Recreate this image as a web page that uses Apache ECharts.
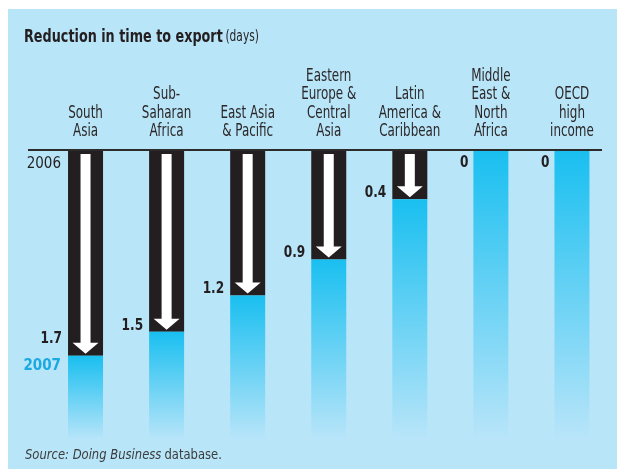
<!DOCTYPE html>
<html>
<head>
<meta charset="utf-8">
<script src="https://cdn.jsdelivr.net/npm/echarts@6/dist/echarts.min.js"></script>
<style>
  html, body { margin: 0; padding: 0; background: #fff; }
  #chart { width: 617px; height: 469px; }
</style>
</head>
<body>
<div id="chart"></div>
<script>
// Regions, in the order drawn left to right
const regions = [
  'South\nAsia',
  'Sub-\nSaharan\nAfrica',
  'East Asia\n& Pacific',
  'Eastern\nEurope &\nCentral\nAsia',
  'Latin\nAmerica &\nCaribbean',
  'Middle\nEast &\nNorth\nAfrica',
  'OECD\nhigh\nincome'
];
// Reduction in time to export, 2006 -> 2007 (days)
const reduction = [1.7, 1.5, 1.2, 0.9, 0.4, 0, 0];
// Depth of the value scale below the 2006 line
const scaleMax = 2.4;

const FONT = "'DejaVu Sans Condensed', 'Liberation Sans Narrow', Roboto, sans-serif";
const INK = '#231f20';
const PANEL = '#b9e5f9';
const CYAN = '#19bff0';
const NARROW = 0.78;   // horizontal squeeze for the condensed lettering

const chart = echarts.init(document.getElementById('chart'), null, { renderer: 'canvas' });

const fade = new echarts.graphic.LinearGradient(0, 0, 0, 1, [
  { offset: 0, color: CYAN },
  { offset: 1, color: PANEL }
]);

const BAR_W = 35;

function valueText(x, y, v) {
  return {
    type: 'text',
    x: x, y: y,
    scaleX: 0.9,
    style: {
      x: 0, y: 0,
      text: String(v),
      align: 'right',
      verticalAlign: 'middle',
      fontFamily: FONT,
      fontWeight: 'bold',
      fontSize: 15,
      fill: INK
    }
  };
}

const option = {
  animation: false,
  backgroundColor: '#ffffff',
  textStyle: { fontFamily: FONT },
  grid: { left: 45, right: 4.5, top: 151, bottom: 29, containLabel: false },
  xAxis: {
    type: 'category',
    position: 'top',
    data: regions,
    axisLine: { show: false },
    axisTick: { show: false },
    axisLabel: { show: false }
  },
  yAxis: {
    type: 'value',
    inverse: true,
    min: 0,
    max: scaleMax,
    show: false,
    splitLine: { show: false }
  },
  series: [
    {
      name: 'reduction',
      type: 'bar',
      stack: 'years',
      barWidth: BAR_W,
      itemStyle: { color: INK },
      data: reduction
    },
    {
      name: '2007 level',
      type: 'bar',
      stack: 'years',
      barWidth: BAR_W,
      itemStyle: { color: fade },
      data: reduction.map(v => +(scaleMax - v).toFixed(3))
    },
    {
      name: 'arrows',
      type: 'custom',
      z: 5,
      data: reduction.map((v, i) => [i, v]),
      renderItem: function (params, api) {
        const idx = api.value(0);
        const v = api.value(1);
        const top = api.coord([idx, 0]);
        const bot = api.coord([idx, v]);
        const cx = top[0];
        const left = cx - BAR_W / 2;
        const children = [];
        // region name above the 2006 line
        children.push({
          type: 'text',
          x: cx,
          y: top[1] - 10,
          scaleX: NARROW,
          style: {
            x: 0, y: 0,
            text: regions[idx],
            align: 'center',
            verticalAlign: 'bottom',
            fontFamily: FONT,
            fontSize: 17,
            lineHeight: 18.5,
            fill: '#2b2728'
          }
        });
        if (v > 0) {
          const y0 = top[1] + 3;
          const y1 = bot[1] - 2;
          const headH = 11, headHalf = 13, shaftHalf = 5;
          children.push({
            type: 'polygon',
            shape: {
              points: [
                [cx - shaftHalf, y0], [cx + shaftHalf, y0],
                [cx + shaftHalf, y1 - headH], [cx + headHalf, y1 - headH],
                [cx, y1],
                [cx - headHalf, y1 - headH], [cx - shaftHalf, y1 - headH]
              ]
            },
            style: { fill: '#ffffff' }
          });
          children.push(valueText(left - 6, bot[1] - (idx === 0 ? 17 : 6), v));
        } else {
          children.push(valueText(left - 5, top[1] + 12, v));
        }
        return { type: 'group', children: children };
      }
    }
  ]
};

chart.setOption(option);

// Panel, headings, the 2006 line and the year markers, placed from the value scale
const y2006 = chart.convertToPixel({ gridIndex: 0 }, [0, 0])[1];
const ySouth = chart.convertToPixel({ gridIndex: 0 }, [0, reduction[0]])[1];
chart.setOption({
  graphic: [
    {
      type: 'rect', z: -10,
      shape: { x: 8, y: 9, width: 609, height: 460 },
      style: { fill: PANEL }
    },
    {
      type: 'text',
      x: 24, y: 37,
      scaleX: 0.79,
      style: {
        x: 0, y: 0,
        verticalAlign: 'middle',
        text: '{b|Reduction in time to export} {r|(days)}',
        rich: {
          b: { fontFamily: FONT, fontWeight: 'bold', fontSize: 18, fill: INK },
          r: { fontFamily: FONT, fontSize: 15, fill: INK }
        }
      }
    },
    {
      type: 'text',
      x: 25, y: 455,
      scaleX: 0.92,
      style: {
        x: 0, y: 0,
        verticalAlign: 'middle',
        text: '{i|Source: Doing Business} {r|database.}',
        rich: {
          i: { fontFamily: FONT, fontStyle: 'italic', fontSize: 14, fill: '#3b3b3b' },
          r: { fontFamily: FONT, fontSize: 14, fill: '#3b3b3b' }
        }
      }
    },
    {
      type: 'line',
      z: 10,
      shape: { x1: 28, y1: y2006 - 1, x2: 602, y2: y2006 - 1 },
      style: { stroke: '#2b2b2b', lineWidth: 2 }
    },
    {
      type: 'text',
      z: 10,
      x: 61, y: y2006 + 13,
      style: {
        x: 0, y: 0,
        text: '2006', align: 'right', verticalAlign: 'middle',
        fontFamily: FONT, fontSize: 15, fill: INK
      }
    },
    {
      type: 'text',
      z: 10,
      x: 61, y: ySouth + 10,
      style: {
        x: 0, y: 0,
        text: '2007', align: 'right', verticalAlign: 'middle',
        fontFamily: FONT, fontWeight: 'bold', fontSize: 15, fill: '#1ba9e1'
      }
    }
  ]
});
</script>
</body>
</html>
